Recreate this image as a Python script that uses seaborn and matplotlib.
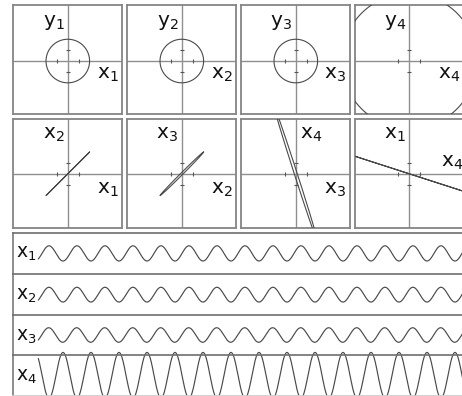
import numpy as np
import pandas as pd
import matplotlib
matplotlib.use("Agg")
import matplotlib.pyplot as plt
import seaborn as sns

# Four coupled oscillators: amplitude and phase of each coordinate
names = ["x1", "x2", "x3", "x4"]
vel_names = ["y1", "y2", "y3", "y4"]
amplitudes = [2.0, 2.0, 2.0, 6.2]
phases_deg = [0.0, 0.3, 4.0, 180.0]
period = 1.0
t_first_peak = 1.275   # time of the first maximum of x1
t_start = 0.893        # traces begin after the strip labels
t_end = 16.2

# Phase-plane panels (horizontal, vertical)
top_pairs = [("x1", "y1"), ("x2", "y2"), ("x3", "y3"), ("x4", "y4")]
mid_pairs = [("x1", "x2"), ("x2", "x3"), ("x3", "x4"), ("x4", "x1")]

sns.set_style("white")
plt.rcParams["font.family"] = ["DejaVu Sans"]

W, H = 462, 396
fig = plt.figure(figsize=(W / 100, H / 100), dpi=100)
fig.patch.set_facecolor("white")


def box(x0, y0, x1, y1):
    return [x0 / W, 1 - y1 / H, (x1 - x0) / W, (y1 - y0) / H]


def label(s):
    return r"$\mathregular{%s_%s}$" % (s[0], s[1])


def put(x, y, s, ha, size):
    fig.text(x / W, 1 - y / H, label(s), ha=ha, va="top", fontsize=size,
             color="#111111")


# one full cycle for the phase-plane curves
theta = np.linspace(0, 2 * np.pi, 721)
cycle = {}
for n, v, a, p in zip(names, vel_names, amplitudes, phases_deg):
    ph = theta + np.deg2rad(p)
    cycle[n] = a * np.cos(ph)
    cycle[v] = -a * np.sin(ph)
cycle = pd.DataFrame(cycle)

col_left = [13.3, 127.3, 241.3, 354.8]
pw = 109.0
rows = [(5.0, 114.0, 0.14), (119.3, 228.3, 0.0)]

border_c = "#858585"
axis_c = "#8f8f8f"
curve_c = "#4a4a4a"


def panel(x0, y0, y1, yshift, hx, vy, row, idx):
    ax = fig.add_axes(box(x0, y0, x0 + pw, y1))
    ax.set_xlim(-5, 5)
    ax.set_ylim(-5 + yshift, 5 + yshift)
    ax.set_xticks([])
    ax.set_yticks([])
    for sp in ax.spines.values():
        sp.set_color(border_c)
        sp.set_linewidth(1.3)
    ax.axhline(0, color=axis_c, lw=1.0, zorder=1)
    ax.axvline(0, color=axis_c, lw=1.0, zorder=1)
    ax.plot([-1, 1], [0, 0], ls="none", marker="|", ms=3, mew=0.8,
            color="#555555", zorder=2)
    ax.plot([0, 0], [-1, 1], ls="none", marker="_", ms=3, mew=0.8,
            color="#555555", zorder=2)
    sns.lineplot(data=cycle, x=hx, y=vy, sort=False, estimator=None, ax=ax,
                 color=curve_c, lw=0.8, zorder=3)
    ax.set_xlabel("")
    ax.set_ylabel("")

    axis_x = x0 + pw / 2 + 0.5
    axis_y = (y0 + y1) / 2 + (1.5 if row == 0 else 0.0)
    right = x0 + pw
    fs = 14.5
    if row == 0:
        put(axis_x - 4, y0 + 8.4, vy, "right", fs)
        put(right - 4, axis_y + 4.2, hx, "right", fs)
    else:
        if idx == 2:
            put(axis_x + 4, y0 + 5.5, vy, "left", fs)
        else:
            put(axis_x - 4, y0 + 5.5, vy, "right", fs)
        if idx == 3:
            put(right - 1, axis_y - 20.5, hx, "right", fs)
        else:
            put(right - 4, axis_y + 6.0, hx, "right", fs)


for r, pairs in enumerate([top_pairs, mid_pairs]):
    y0, y1, ysh = rows[r]
    for i, (hx, vy) in enumerate(pairs):
        panel(col_left[i], y0, y1, ysh, hx, vy, r, i)

# time traces
t = np.linspace(t_start, t_end, 3000)
ts = {"t": t}
for n, a, p in zip(names, amplitudes, phases_deg):
    ts[n] = a * np.cos(2 * np.pi * (t - t_first_peak) / period + np.deg2rad(p))
ts = pd.DataFrame(ts)

strip_edges = [232.5, 274.3, 315.0, 355.0, 395.5]
x_left, x_right = 13.3, 464.0
for i, n in enumerate(names):
    top, bot = strip_edges[i], strip_edges[i + 1]
    ax = fig.add_axes(box(x_left, top, x_right, bot))
    ax.set_xlim(0, (x_right - x_left) / 28.0)
    ax.set_ylim(-5.5, 5.5)
    ax.set_xticks([])
    ax.set_yticks([])
    ax.patch.set_alpha(0)
    ax.spines["right"].set_visible(False)
    ax.spines["bottom"].set_visible(i == 3)
    ax.spines["bottom"].set_color("#cfcfcf")
    ax.spines["bottom"].set_linewidth(1.3)
    ax.spines["top"].set_color("#6e6e6e")
    ax.spines["top"].set_linewidth(1.2)
    ax.spines["left"].set_color(border_c)
    ax.spines["left"].set_linewidth(1.3)
    sns.lineplot(data=ts, x="t", y=n, sort=False, estimator=None, ax=ax,
                 color=curve_c, lw=0.85)
    if i == 3:
        ax.lines[-1].set_clip_on(False)
    ax.set_xlabel("")
    ax.set_ylabel("")
    put(16.0, top + 11.5, n, "left", 13.5)

fig.savefig("out.png", dpi=100, facecolor="white")
